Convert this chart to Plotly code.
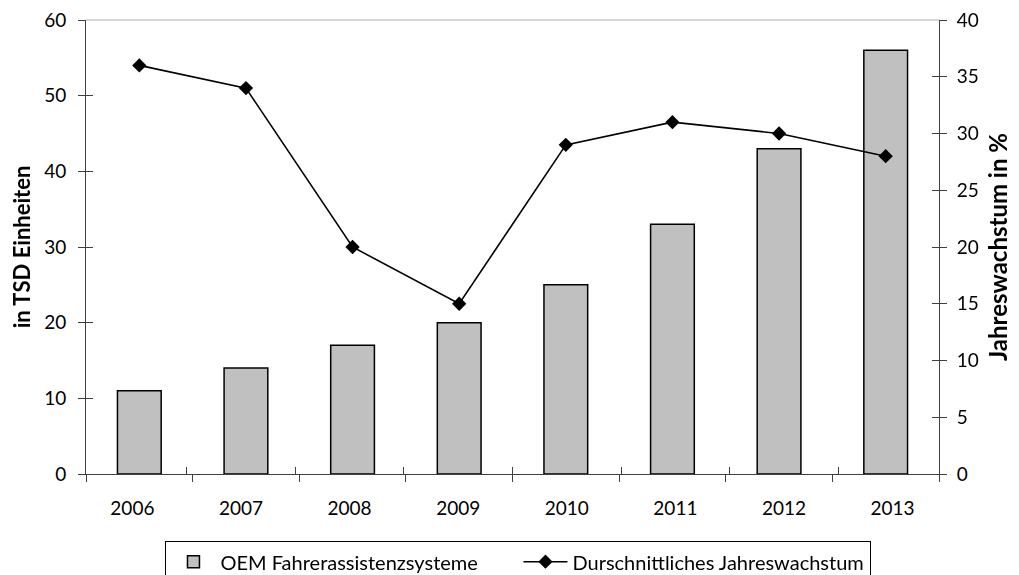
import plotly.graph_objects as go

years = ["2006", "2007", "2008", "2009", "2010", "2011", "2012", "2013"]
units = [11, 14, 17, 20, 25, 33, 43, 56]
growth = [36, 34, 20, 15, 29, 31, 30, 28]

FONT = "Lato"
AX = "#404040"

fig = go.Figure()
fig.add_trace(go.Bar(
    x=years, y=units, name="OEM Fahrerassistenzsysteme",
    marker=dict(color="#c0c0c0", line=dict(color="black", width=1.5)),
    xaxis="x", yaxis="y",
))
fig.add_trace(go.Scatter(
    x=years, y=growth, name="Durschnittliches Jahreswachstum",
    mode="lines+markers",
    line=dict(color="black", width=1.6),
    marker=dict(symbol="diamond", size=11, color="black"),
    xaxis="x", yaxis="y2",
))
# invisible helper traces so the overlay axes (inner half of crossing ticks, x labels) render
fig.add_trace(go.Scatter(x=years, y=units, mode="markers", opacity=0,
                         showlegend=False, hoverinfo="skip", xaxis="x2", yaxis="y3"))
fig.add_trace(go.Scatter(x=years, y=growth, mode="markers", opacity=0,
                         showlegend=False, hoverinfo="skip", xaxis="x2", yaxis="y4"))
fig.add_trace(go.Scatter(x=years, y=units, mode="markers", opacity=0,
                         showlegend=False, hoverinfo="skip", xaxis="x3", yaxis="y3"))

common = dict(showgrid=False, zeroline=False, automargin=False, tickcolor=AX,
              tickwidth=1, ticklabeloverflow="allow")

# page body has an 8px margin, so the figure is drawn 8px smaller and offset
fig.update_layout(
    width=1011, height=567,
    margin=dict(l=78, r=80, t=12, b=101, autoexpand=False),
    paper_bgcolor="white", plot_bgcolor="white",
    font=dict(family=FONT, size=19, color="black"),
    bargap=0.59,
    showlegend=True,
    legend=dict(
        orientation="h", x=0.507, xanchor="center", y=-0.148, yanchor="top",
        bordercolor="black", borderwidth=1, font=dict(size=20, family=FONT),
        itemwidth=44, tracegroupgap=0,
        entrywidth=293, entrywidthmode="pixels",
    ),
    xaxis=dict(
        type="category", showline=True, linecolor=AX, linewidth=1,
        ticks="outside", tickson="boundaries", ticklen=7,
        showticklabels=False, **common,
    ),
    xaxis2=dict(
        type="category", overlaying="x", side="bottom", anchor="y3",
        ticks="inside", tickson="boundaries", ticklen=7, showticklabels=False,
        showline=False, **common,
    ),
    xaxis3=dict(
        type="category", overlaying="x", side="bottom", anchor="y3",
        ticks="outside", ticklen=17, showline=False,
        showticklabels=True, tickfont=dict(size=19),
        **{**common, "tickcolor": "rgba(0,0,0,0)"},
    ),
    yaxis=dict(
        range=[0, 60], dtick=10, showline=True, linecolor=AX, linewidth=1,
        ticks="outside", ticklen=7, ticklabelstandoff=8,
        title=dict(text="<b>in TSD Einheiten</b>", font=dict(size=22), standoff=26),
        tickfont=dict(size=19), **common,
    ),
    yaxis2=dict(
        range=[0, 40], dtick=5, overlaying="y", side="right",
        showline=True, linecolor=AX, linewidth=1,
        ticks="outside", ticklen=7, ticklabelstandoff=6,
        title=dict(text="<b>Jahreswachstum in %</b>", font=dict(size=24), standoff=12),
        tickfont=dict(size=19), **common,
    ),
    yaxis3=dict(
        range=[0, 60], dtick=10, overlaying="y", side="left",
        ticks="inside", ticklen=7, showticklabels=False, showline=False, **common,
    ),
    yaxis4=dict(
        range=[0, 40], dtick=5, overlaying="y", side="right",
        ticks="inside", ticklen=7, showticklabels=False, showline=False, **common,
    ),
)
fig.add_shape(type="line", xref="paper", yref="paper", x0=0, x1=1, y0=1, y1=1,
              line=dict(color="#c8c8c8", width=1.5))

fig.write_html("out.html")
